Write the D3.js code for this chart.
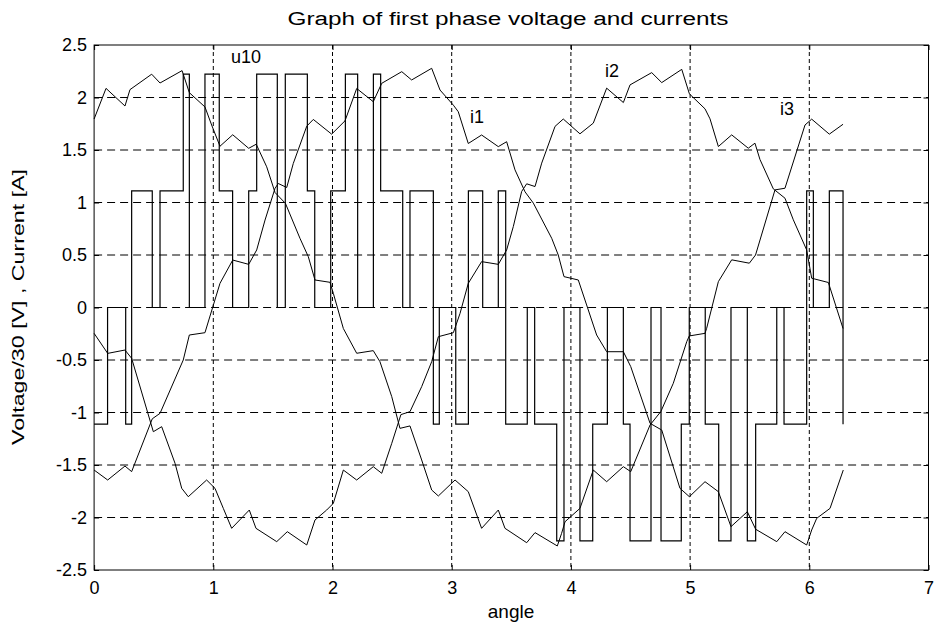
<!DOCTYPE html>
<html>
<head>
<meta charset="utf-8">
<script src="https://cdn.jsdelivr.net/npm/d3@7"></script>
<style>
  body { margin: 0; background: #fff; }
  text { font-family: "Liberation Sans", Arial, sans-serif; fill: #000; }
</style>
</head>
<body>
<script>
// phase voltage u10 (divided by 30): switching instants and level held from each instant
var uTimes = [0, 0.113, 0.265, 0.315, 0.488, 0.553, 0.748, 0.799, 0.930, 1.050, 1.162, 1.297, 1.364,
  1.537, 1.604, 1.789, 1.851, 1.985, 2.108, 2.211, 2.343, 2.404, 2.589, 2.650, 2.846, 2.896, 3.034,
  3.140, 3.260, 3.391, 3.453, 3.634, 3.696, 3.881, 3.942, 4.076, 4.183, 4.306, 4.440, 4.496, 4.672,
  4.756, 4.926, 4.993, 5.127, 5.240, 5.343, 5.480, 5.550, 5.727, 5.788, 5.978, 6.034, 6.168, 6.283];
var uLevels = [-1.111, 0, -1.111, 1.111, 0, 1.111, 2.222, 0, 2.222, 1.111, 0, 1.111, 2.222,
  0, 2.222, 1.111, 0, 1.111, 2.222, 0, 2.222, 1.111, 0, 1.111, -1.111, 0, -1.111,
  1.111, 0, 1.111, -1.111, 0, -1.111, -2.222, 0, -2.222, -1.111, 0, -1.111, -2.222, 0,
  -2.222, -1.111, 0, -1.111, -2.222, 0, -2.222, -1.111, 0, -1.111, 1.111, 0, 1.111, -1.111];

// currents, [angle, value]
var i1 = [[0, -1.548], [0.114, -1.643], [0.259, -1.510], [0.315, -1.563], [0.488, -1.06], [0.553, -1.008],
  [0.748, -0.500], [0.799, -0.262], [0.930, -0.240], [1.056, 0.230], [1.163, 0.452], [1.297, 0.411],
  [1.364, 0.548], [1.434, 0.833], [1.518, 1.135], [1.545, 1.181], [1.616, 1.143], [1.671, 1.372],
  [1.784, 1.727], [1.839, 1.791], [1.993, 1.651], [2.105, 1.778], [2.203, 2.086], [2.342, 1.960],
  [2.413, 2.135], [2.581, 2.246], [2.664, 2.167], [2.832, 2.278], [2.902, 2.071], [3.014, 1.927],
  [3.055, 1.865], [3.139, 1.562], [3.251, 1.643], [3.391, 1.532], [3.461, 1.579], [3.531, 1.311],
  [3.615, 1.102], [3.685, 0.994], [3.839, 0.659], [3.894, 0.500], [3.942, 0.294], [4.062, 0.262],
  [4.132, 0.024], [4.188, -0.167], [4.216, -0.262], [4.300, -0.421], [4.440, -0.421], [4.502, -0.563],
  [4.664, -1.103], [4.762, -1.167], [4.915, -1.722], [4.994, -1.802], [5.125, -1.659], [5.237, -1.754],
  [5.343, -2.087], [5.480, -1.945], [5.550, -2.112], [5.727, -2.230], [5.796, -2.135], [5.978, -2.262],
  [6.020, -2.119], [6.062, -2.008], [6.174, -1.913], [6.285, -1.548]];

var i2 = [[0, -0.246], [0.114, -0.437], [0.259, -0.405], [0.315, -0.484], [0.497, -1.183], [0.567, -1.135],
  [0.679, -1.484], [0.735, -1.722], [0.790, -1.802], [0.944, -1.643], [1.014, -1.722], [1.084, -1.913],
  [1.154, -2.103], [1.302, -1.929], [1.358, -2.103], [1.532, -2.230], [1.621, -2.135], [1.784, -2.262],
  [1.853, -2.024], [1.951, -1.929], [2.007, -1.865], [2.091, -1.548], [2.203, -1.643], [2.342, -1.516],
  [2.413, -1.579], [2.497, -1.294], [2.574, -1.02], [2.650, -0.992], [2.748, -0.754], [2.832, -0.516],
  [2.888, -0.278], [3.014, -0.240], [3.070, -0.056], [3.139, 0.230], [3.251, 0.437], [3.391, 0.411],
  [3.461, 0.548], [3.517, 0.771], [3.587, 1.105], [3.629, 1.178], [3.699, 1.152], [3.755, 1.375],
  [3.867, 1.725], [3.936, 1.795], [4.076, 1.654], [4.188, 1.756], [4.300, 2.089], [4.440, 1.952],
  [4.496, 2.120], [4.678, 2.237], [4.762, 2.142], [4.930, 2.268], [4.994, 2.035], [5.125, 1.892],
  [5.167, 1.797], [5.237, 1.533], [5.349, 1.644], [5.488, 1.517], [5.544, 1.565], [5.586, 1.41],
  [5.698, 1.130], [5.796, 1.041], [5.866, 0.835], [5.978, 0.548], [6.020, 0.279], [6.160, 0.238],
  [6.283, -0.200]];

var i3 = [[0, 1.795], [0.100, 2.087], [0.259, 1.919], [0.301, 2.075], [0.483, 2.222], [0.553, 2.138],
  [0.738, 2.256], [0.799, 2.046], [0.930, 1.910], [0.986, 1.738], [1.056, 1.536], [1.163, 1.645],
  [1.297, 1.516], [1.360, 1.555], [1.448, 1.340], [1.518, 1.095], [1.605, 0.992], [1.727, 0.659],
  [1.797, 0.484], [1.853, 0.262], [1.979, 0.240], [2.007, 0.135], [2.091, -0.200], [2.203, -0.436],
  [2.342, -0.411], [2.398, -0.516], [2.497, -0.849], [2.566, -1.151], [2.650, -1.128], [2.748, -1.452],
  [2.832, -1.738], [2.888, -1.795], [3.028, -1.643], [3.139, -1.754], [3.251, -2.103], [3.391, -1.929],
  [3.447, -2.103], [3.629, -2.240], [3.699, -2.144], [3.886, -2.271], [3.922, -2.151], [3.951, -2.040],
  [4.076, -1.913], [4.188, -1.548], [4.300, -1.659], [4.440, -1.516], [4.502, -1.563], [4.664, -1.119],
  [4.755, -0.990], [4.859, -0.722], [4.972, -0.325], [4.993, -0.271], [5.125, -0.246], [5.139, -0.198],
  [5.237, 0.246], [5.349, 0.454], [5.497, 0.422], [5.549, 0.500], [5.712, 1.120], [5.796, 1.136],
  [5.964, 1.738], [6.020, 1.794], [6.168, 1.651], [6.283, 1.745]];

var xTicks = [0, 1, 2, 3, 4, 5, 6, 7];
var yTicks = [-2.5, -2, -1.5, -1, -0.5, 0, 0.5, 1, 1.5, 2, 2.5];

// curve labels placed in data coordinates
var labelNames = ["u10", "i1", "i2", "i3"];
var labelX = [1.148, 3.154, 4.286, 5.754];
var labelY = [2.329, 1.757, 2.195, 1.833];

var svg = d3.select("body").append("svg")
  .attr("width", 935)
  .attr("height", 626);

var x = d3.scaleLinear().domain([0, 7]).range([94.1, 928.5]);
var y = d3.scaleLinear().domain([-2.5, 2.5]).range([570, 45]);

// grid
svg.selectAll(".vgrid")
  .data(xTicks.slice(1, -1))
  .enter()
  .append("line")
  .attr("x1", function (d) { return x(d); })
  .attr("x2", function (d) { return x(d); })
  .attr("y1", y(2.5))
  .attr("y2", y(-2.5))
  .style("stroke", "#000")
  .style("stroke-width", 1)
  .style("stroke-dasharray", "4,3");

svg.selectAll(".hgrid")
  .data(yTicks.slice(1, -1))
  .enter()
  .append("line")
  .attr("x1", x(0))
  .attr("x2", x(7))
  .attr("y1", function (d) { return y(d); })
  .attr("y2", function (d) { return y(d); })
  .style("stroke", "#000")
  .style("stroke-width", 1)
  .style("stroke-dasharray", "8,5");

// curves
var line = d3.line()
  .x(function (d) { return x(d[0]); })
  .y(function (d) { return y(d[1]); });

var stepLine = d3.line()
  .curve(d3.curveStepAfter)
  .x(function (d, k) { return x(uTimes[k]); })
  .y(function (d) { return y(d); });

svg.append("path")
  .attr("d", stepLine(uLevels))
  .style("fill", "none")
  .style("stroke", "#000")
  .style("stroke-width", 1.2);

[i1, i2, i3].forEach(function (s) {
  svg.append("path")
    .attr("d", line(s))
    .style("fill", "none")
    .style("stroke", "#000")
    .style("stroke-width", 1);
});

// axes, ticks pointing inwards; plain hyphen for negatives like the original
var plain = function (d) { return String(d); };

var gx = svg.append("g")
  .attr("transform", "translate(0," + y(-2.5) + ")")
  .call(d3.axisBottom(x).tickValues(xTicks).tickSizeInner(-5).tickSizeOuter(0).tickPadding(11)
    .tickFormat(plain));
var gxt = svg.append("g")
  .attr("transform", "translate(0," + y(2.5) + ")")
  .call(d3.axisTop(x).tickValues(xTicks).tickSizeInner(-5).tickSizeOuter(0).tickFormat(""));
var gy = svg.append("g")
  .attr("transform", "translate(" + x(0) + ",0)")
  .call(d3.axisLeft(y).tickValues(yTicks).tickSizeInner(-5).tickSizeOuter(0).tickPadding(7)
    .tickFormat(plain));
var gyr = svg.append("g")
  .attr("transform", "translate(" + x(7) + ",0)")
  .call(d3.axisRight(y).tickValues(yTicks).tickSizeInner(-5).tickSizeOuter(0).tickFormat(""));

[gx, gxt, gy, gyr].forEach(function (g) {
  g.selectAll("path").remove();
  g.selectAll("line").style("stroke", "#000");
  g.selectAll("text")
    .style("font-family", "'Liberation Sans', Arial, sans-serif")
    .style("font-size", "18px")
    .style("fill", "#000");
});

svg.append("rect")
  .attr("x", x(0))
  .attr("y", y(2.5))
  .attr("width", x(7) - x(0))
  .attr("height", y(-2.5) - y(2.5))
  .style("fill", "none")
  .style("stroke", "#000")
  .style("stroke-width", 1);

// curve labels
svg.selectAll(".lbl")
  .data(labelNames)
  .enter()
  .append("text")
  .attr("x", function (d, k) { return x(labelX[k]); })
  .attr("y", function (d, k) { return y(labelY[k]); })
  .style("font-size", "18px")
  .text(function (d) { return d; });

// title and axis labels
svg.append("text")
  .attr("x", 508)
  .attr("y", 25)
  .attr("text-anchor", "middle")
  .attr("textLength", 441)
  .attr("lengthAdjust", "spacingAndGlyphs")
  .style("font-size", "18px")
  .text("Graph of first phase voltage and currents");

svg.append("text")
  .attr("x", 511)
  .attr("y", 618)
  .attr("text-anchor", "middle")
  .style("font-size", "19px")
  .text("angle");

svg.append("text")
  .attr("transform", "translate(24,307) rotate(-90)")
  .attr("text-anchor", "middle")
  .attr("textLength", 276)
  .attr("lengthAdjust", "spacingAndGlyphs")
  .style("font-size", "17px")
  .text("Voltage/30 [V] , Current [A]");
</script>
</body>
</html>
